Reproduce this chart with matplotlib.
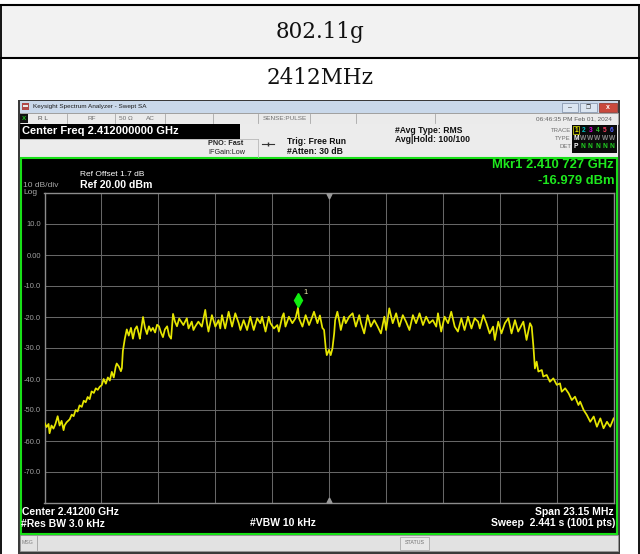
import matplotlib
matplotlib.use("Agg")
import matplotlib.pyplot as plt
from matplotlib.patches import Rectangle
import matplotlib.transforms as mtransforms

plt.rcParams['font.family'] = ['Liberation Sans', 'DejaVu Sans']

# ---------------- data ----------------
table_title = "802.11g"
channel_label = "2412MHz"
center_mhz = 2412.0
span_mhz = 23.15
ref_level_dbm = 20.0
db_per_div = 10.0
n_divs = 10
y_tick_values = [10.0, 0.0, -10.0, -20.0, -30.0, -40.0, -50.0, -60.0, -70.0]
y_tick_labels = ["10.0", "0.00", "-10.0", "-20.0", "-30.0", "-40.0", "-50.0", "-60.0", "-70.0"]
marker_offset_mhz = -1.273
marker_level_dbm = -16.979

trace_offset_mhz = [
    -11.58, -11.49, -11.41, -11.37, -11.29, -11.21, -11.13, -11.04, -10.96, -10.88,
    -10.80, -10.76, -10.68, -10.55, -10.47, -10.39, -10.31, -10.23, -10.15, -10.06,
    -9.98, -9.90, -9.82, -9.74, -9.66, -9.57, -9.49, -9.41, -9.33, -9.25,
    -9.17, -9.08, -9.00, -8.92, -8.84, -8.76, -8.68, -8.64, -8.55, -8.47,
    -8.43, -8.39, -8.31, -8.23, -8.15, -8.06, -7.98, -7.90, -7.82, -7.74,
    -7.70, -7.61, -7.57, -7.49, -7.41, -7.33, -7.25, -7.17, -7.08, -7.00,
    -6.92, -6.84, -6.76, -6.68, -6.59, -6.51, -6.43, -6.35, -6.27, -6.19,
    -6.10, -5.93, -5.79, -5.72, -5.59, -5.52, -5.45, -5.32, -5.18, -5.04,
    -4.97, -4.91, -4.77, -4.63, -4.50, -4.43, -4.36, -4.23, -4.09, -3.95,
    -3.82, -3.68, -3.61, -3.48, -3.34, -3.21, -3.07, -2.93, -2.80, -2.73,
    -2.59, -2.46, -2.39, -2.25, -2.11, -2.05, -1.91, -1.85, -1.78, -1.64,
    -1.50, -1.37, -1.27, -1.23, -1.09, -0.96, -0.82, -0.69, -0.62, -0.48,
    -0.38, -0.28, -0.21, -0.14, -0.10, -0.01, 0.06, 0.13, 0.20, 0.24,
    0.33, 0.40, 0.47, 0.60, 0.67, 0.81, 0.95, 1.08, 1.22, 1.29,
    1.42, 1.56, 1.69, 1.83, 1.97, 2.10, 2.24, 2.31, 2.44, 2.58,
    2.72, 2.85, 2.99, 3.12, 3.26, 3.40, 3.53, 3.67, 3.81, 3.94,
    4.07, 4.21, 4.35, 4.42, 4.55, 4.69, 4.83, 4.96, 5.10, 5.23,
    5.37, 5.50, 5.64, 5.78, 5.91, 6.05, 6.12, 6.26, 6.39, 6.52,
    6.66, 6.73, 6.87, 7.00, 7.14, 7.28, 7.41, 7.55, 7.68, 7.82,
    7.89, 8.02, 8.16, 8.23, 8.30, 8.36, 8.43, 8.50, 8.64, 8.70,
    8.84, 8.97, 9.11, 9.25, 9.38, 9.45, 9.59, 9.73, 9.86, 9.99,
    10.13, 10.20, 10.34, 10.47, 10.61, 10.75, 10.88, 11.02, 11.15, 11.29,
    11.42, 11.56,
]
trace_level_dbm = [
    -54.0, -55.5, -54.5, -57.5, -55.0, -56.0, -54.5, -52.0, -55.0, -53.5,
    -56.5, -55.0, -54.0, -53.0, -51.5, -52.0, -50.0, -50.5, -48.5, -49.0,
    -47.0, -47.5, -45.8, -46.5, -44.0, -44.5, -43.0, -43.5, -42.5, -42.0,
    -40.0, -41.5, -39.5, -40.5, -37.7, -39.5, -36.0, -35.0, -36.0, -37.5,
    -36.5, -31.0, -27.0, -24.0, -26.0, -23.5, -27.0, -24.0, -23.0, -25.5,
    -27.0, -22.0, -20.0, -23.5, -25.5, -23.0, -24.5, -23.5, -25.0, -22.5,
    -23.0, -25.0, -26.5, -24.0, -23.0, -26.0, -27.0, -19.0, -21.5, -23.0,
    -20.5, -22.6, -20.4, -23.7, -21.5, -24.2, -23.1, -21.5, -23.1, -17.7,
    -22.0, -24.7, -19.4, -23.1, -21.0, -23.7, -19.4, -23.7, -18.3, -23.1,
    -18.8, -22.0, -24.2, -21.0, -24.2, -19.9, -24.2, -20.4, -22.0, -19.9,
    -24.7, -19.9, -22.0, -23.7, -22.6, -24.7, -19.9, -18.8, -23.1, -19.9,
    -22.0, -20.4, -16.98, -20.4, -23.1, -19.4, -22.6, -19.9, -18.3, -22.0,
    -19.5, -23.5, -24.2, -30.3, -32.3, -30.6, -32.3, -30.1, -25.3, -21.0,
    -18.3, -21.0, -24.2, -19.9, -22.0, -19.9, -18.8, -23.1, -19.4, -22.0,
    -25.3, -19.4, -23.1, -21.0, -23.1, -25.3, -19.9, -24.2, -17.2, -22.0,
    -18.8, -23.1, -19.4, -21.5, -24.2, -19.4, -22.0, -18.8, -22.6, -19.9,
    -22.0, -21.0, -23.1, -18.8, -24.7, -19.9, -22.0, -18.3, -23.1, -24.7,
    -20.4, -24.2, -19.9, -23.7, -20.4, -21.5, -23.7, -19.4, -22.0, -25.3,
    -23.1, -27.4, -21.5, -25.3, -22.0, -20.4, -25.3, -21.0, -24.7, -22.6,
    -21.5, -27.4, -22.0, -23.1, -29.6, -36.6, -34.4, -37.6, -37.1, -39.2,
    -38.7, -40.9, -39.8, -41.9, -41.4, -44.1, -43.0, -44.6, -46.8, -45.7,
    -48.4, -47.3, -50.0, -51.6, -53.8, -52.1, -55.4, -52.7, -55.9, -53.8,
    -55.4, -52.7,
]

# ---------------- figure ----------------
W, H = 640, 554
fig = plt.figure(figsize=(W / 100, H / 100), dpi=100)
fig.patch.set_facecolor("white")

bg = fig.add_axes([0, 0, 1, 1])
bg.set_xlim(0, W)
bg.set_ylim(H, 0)
bg.axis("off")


def rect(x0, y0, x1, y1, fc, ec="none", lw=0.0, z=1):
    bg.add_patch(Rectangle((x0, y0), x1 - x0, y1 - y0, facecolor=fc,
                           edgecolor=ec, linewidth=lw, zorder=z))


def txt(x, y, s, size=6, color="black", ha="left", weight="normal", z=5, **kw):
    bg.text(x, y, s, fontsize=size, color=color, ha=ha, va="center",
            fontweight=weight, zorder=z, **kw)


# ---- table ----
rect(1, 5, 639, 58, "#f2f2f2", z=0)
for (xa, ya, xb, yb) in [(0, 5, 640, 5), (0, 58, 640, 58)]:
    bg.plot([xa, xb], [ya, yb], color="black", lw=1.5, zorder=2)
bg.plot([1, 1], [5, 554], color="black", lw=1.3, zorder=2)
bg.plot([638.5, 638.5], [5, 554], color="black", lw=1.3, zorder=2)
bg.text(320, 32, table_title, fontsize=15.5, family="DejaVu Serif",
        ha="center", va="center", color="#111111")
bg.text(320, 78, channel_label, fontsize=15.5, family="DejaVu Serif",
        ha="center", va="center", color="#111111")

# ---- screenshot window frame ----
rect(18, 100, 620, 554, "#3a3a3a", z=1)
rect(20, 101, 618, 113, "#c9d8ea", z=2)
rect(22, 103, 29, 110, "#b04848", z=3)
rect(23, 105, 28, 106.5, "#e8e8e8", z=4)
txt(33, 106.5, "Keysight Spectrum Analyzer - Swept SA", size=4.6, color="#1a1a1a")
rect(562, 103, 578, 111.5, "#dbe5f1", ec="#7d8ca3", lw=0.5, z=3)
rect(580, 103, 597, 111.5, "#dbe5f1", ec="#7d8ca3", lw=0.5, z=3)
rect(599, 103, 617, 111.5, "#c9493d", ec="#8a3028", lw=0.5, z=3)
txt(570, 107.5, "–", size=5, color="#333333", ha="center")
txt(588.5, 107.5, "❐", size=4, color="#333333", ha="center", family="DejaVu Sans")
txt(608, 107.2, "x", size=5, color="white", ha="center", weight="bold")

# status strip
rect(20, 113, 618, 123.5, "#ebebeb", ec="#a8a8a8", lw=0.5, z=2)
rect(20, 113.5, 28, 123, "#111111", z=3)
txt(24, 118.3, "X", size=4.5, color="#20c020", ha="center", weight="bold")
for sx in [67, 115, 165, 213, 258, 310, 356, 435]:
    bg.plot([sx, sx], [113.5, 123], color="#a8a8a8", lw=0.6, zorder=3)
txt(38, 118.3, "R L", size=4.6, color="#505050")
txt(88, 118.3, "RF", size=4.6, color="#707070")
txt(119, 118.3, "50 Ω", size=4.6, color="#707070")
txt(146, 118.3, "AC", size=4.6, color="#707070")
txt(263, 118.3, "SENSE:PULSE", size=4.6, color="#707070")
txt(612, 118.3, "06:46:35 PM Feb 01, 2024", size=4.6, color="#606060", ha="right")

# info area
rect(20, 123.5, 618, 158, "#ececec", z=2)
rect(20, 124, 240, 138.5, "#000000", z=3)
txt(22, 131.3, "Center Freq 2.412000000 GHz", size=8, color="white", weight="bold")
bg.plot([20, 258], [139, 139], color="#b8b8b8", lw=0.6, zorder=3)
bg.plot([258, 258], [139, 157], color="#b8b8b8", lw=0.6, zorder=3)
txt(208, 143.5, "PNO: Fast", size=5.2, color="#222222", weight="bold")
txt(208, 152.5, "IFGain:Low", size=5.2, color="#222222")
bg.plot([262, 274], [143.5, 143.5], color="#333333", lw=0.8, zorder=3)
bg.plot([268], [143.5], marker="|", ms=3, color="#333333", zorder=3)
txt(287, 141, "Trig: Free Run", size=6.2, color="#111111", weight="bold")
txt(287, 151, "#Atten: 30 dB", size=6.2, color="#111111", weight="bold")
txt(395, 130.5, "#Avg Type: RMS", size=6.2, color="#111111", weight="bold")
txt(395, 139.5, "Avg|Hold: 100/100", size=6.2, color="#111111", weight="bold")
txt(571, 130, "TRACE", size=4.3, color="#707070", ha="right")
txt(571, 138.5, "TYPE", size=4.3, color="#707070", ha="right")
txt(571, 147, "DET", size=4.3, color="#707070", ha="right")
rect(572, 124.5, 617, 152.5, "#0a0a0a", z=3)
trace_cols = ["#e8e800", "#00c8c8", "#e000e0", "#30c030", "#ff4060", "#5060ff"]
for i, c in enumerate(trace_cols):
    xx = 576 + i * 7.2
    txt(xx, 130, str(i + 1), size=4.8, color=c, ha="center", weight="bold")
    if i == 0:
        rect(xx - 3, 126, xx + 3, 134, "none", ec="#e8e800", lw=0.5, z=4)
        txt(xx, 138.5, "M", size=4.8, color="white", ha="center", weight="bold")
        txt(xx, 147, "P", size=4.8, color="white", ha="center", weight="bold")
    else:
        txt(xx, 138.5, "W", size=4.8, color="#8a8a8a", ha="center", weight="bold")
        txt(xx, 147, "N", size=4.8, color="#20d020", ha="center", weight="bold")

# plot panel
rect(21, 158, 616.5, 534, "#000000", ec="#18e018", lw=1.5, z=2)
txt(23, 185.5, "10 dB/div", size=6, color="#a8a8a8")
txt(23, 192.5, "Log", size=6, color="#a8a8a8")
txt(80, 174, "Ref Offset 1.7 dB", size=6, color="white")
txt(80, 184.5, "Ref 20.00 dBm", size=7.6, color="white", weight="bold")
txt(614, 165.5, "Mkr1 2.410 727 GHz", size=9.4, color="#1ee81e", ha="right", weight="bold")
txt(614, 181.5, "-16.979 dBm", size=9.4, color="#1ee81e", ha="right", weight="bold")
txt(22, 512, "Center 2.41200 GHz", size=7.5, color="white", weight="bold")
txt(21, 524, "#Res BW 3.0 kHz", size=7.5, color="white", weight="bold")
txt(250, 523.5, "#VBW 10 kHz", size=7.5, color="white", weight="bold")
txt(614, 512, "Span 23.15 MHz", size=7.5, color="white", ha="right", weight="bold")
txt(615, 523.5, "Sweep  2.441 s (1001 pts)", size=7.5, color="white", ha="right", weight="bold")

# bottom status bar
rect(20, 535, 618, 550.5, "#e2e2e2", ec="#9a9a9a", lw=0.5, z=2)
bg.plot([37, 37], [536, 550], color="#a0a0a0", lw=0.6, zorder=3)
txt(22, 542.5, "MSG", size=3.8, color="#808080")
rect(400, 536.5, 429, 550, "#e8e8e8", ec="#a0a0a0", lw=0.5, z=3)
txt(414.5, 543, "STATUS", size=3.8, color="#707070", ha="center")

# ---- spectrum plot ----
left_px, right_px, top_px, bot_px = 44.5, 614.0, 193.0, 503.0
ax = fig.add_axes([left_px / W, (H - bot_px) / H, (right_px - left_px) / W, (bot_px - top_px) / H])
ax.set_facecolor("#000000")
f_lo = center_mhz - span_mhz / 2
f_hi = center_mhz + span_mhz / 2
bottom_db = ref_level_dbm - n_divs * db_per_div
ax.set_xlim(f_lo, f_hi)
ax.set_ylim(bottom_db, ref_level_dbm)
ax.set_xticks([f_lo + i * span_mhz / n_divs for i in range(n_divs + 1)])
ax.set_xticklabels([])
ax.set_yticks(y_tick_values)
ax.set_yticklabels(y_tick_labels)
ax.tick_params(axis="both", length=0, colors="#a0a0a0", labelsize=5.4, pad=2.5)
ax.grid(True, color="#666666", lw=0.75)
ax.set_axisbelow(True)
for sp in ax.spines.values():
    sp.set_color("#8c8c8c")
    sp.set_linewidth(1.0)

freqs = [center_mhz + o for o in trace_offset_mhz]
ax.plot(freqs, trace_level_dbm, color="#e6e600", lw=1.25, zorder=3)

# marker diamond, drawn above the trace point
mk_off = mtransforms.offset_copy(ax.transData, fig=fig, x=0, y=8, units="dots")
ax.plot([center_mhz + marker_offset_mhz], [marker_level_dbm], marker="d", ms=7.5,
        color="#10ee10", mec="#10ee10", transform=mk_off, clip_on=False, zorder=5)
lbl_off = mtransforms.offset_copy(ax.transData, fig=fig, x=8, y=15, units="dots")
ax.text(center_mhz + marker_offset_mhz, marker_level_dbm, "1", color="#f0f0b0",
        fontsize=5.5, transform=lbl_off, ha="center", va="center")

# centre markers on top and bottom edges
top_off = mtransforms.offset_copy(ax.transData, fig=fig, x=0, y=-3, units="dots")
bot_off = mtransforms.offset_copy(ax.transData, fig=fig, x=0, y=3, units="dots")
ax.plot([center_mhz], [ref_level_dbm], marker="v", ms=3.5, color="#9a9a9a",
        transform=top_off, clip_on=False, zorder=4)
ax.plot([center_mhz], [bottom_db], marker="^", ms=3.5, color="#9a9a9a",
        transform=bot_off, clip_on=False, zorder=4)

fig.savefig("out.png", dpi=100, facecolor="white")
